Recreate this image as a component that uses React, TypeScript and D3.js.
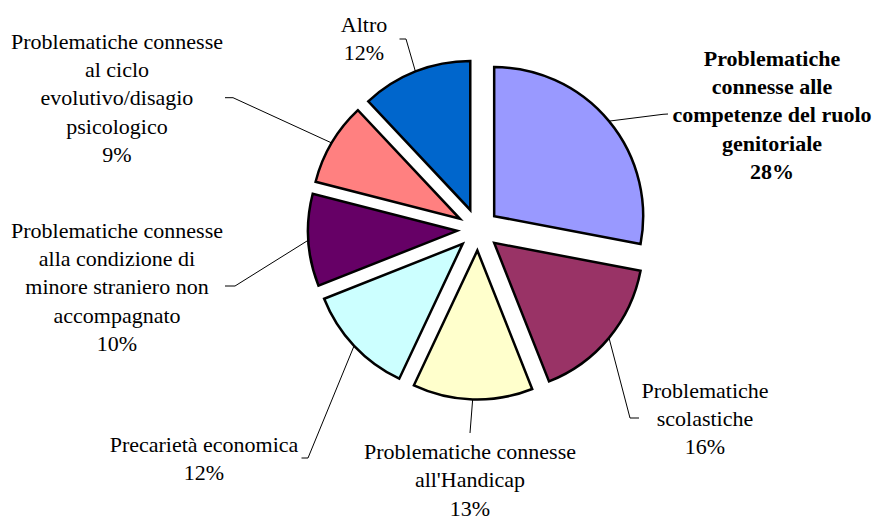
import React from "react";
import * as d3 from "d3";

const categories = [
  "Problematiche connesse alle competenze del ruolo genitoriale",
  "Problematiche scolastiche",
  "Problematiche connesse all'Handicap",
  "Precarietà economica",
  "Problematiche connesse alla condizione di minore straniero non accompagnato",
  "Problematiche connesse al ciclo evolutivo/disagio psicologico",
  "Altro",
];
const values = [28, 16, 13, 12, 10, 9, 12];
const percentLabels = ["28%", "16%", "13%", "12%", "10%", "9%", "12%"];
const labelLines = [
  ["Problematiche", "connesse alle", "competenze del ruolo", "genitoriale"],
  ["Problematiche", "scolastiche"],
  ["Problematiche connesse", "all'Handicap"],
  ["Precarietà economica"],
  ["Problematiche connesse", "alla condizione di", "minore straniero non", "accompagnato"],
  ["Problematiche connesse", "al ciclo", "evolutivo/disagio", "psicologico"],
  ["Altro"],
];
const colors = ["#9999FF", "#993366", "#FFFFCC", "#CCFFFF", "#660066", "#FF8080", "#0066CC"];
const boldLabel = [true, false, false, false, false, false, false];

// layout (label placement, leader elbows)
const layout = [
  { tx: 772, ty: 58, elbow: [663, 114.3], tick: [668, 114] },
  { tx: 705, ty: 390, elbow: [630, 418], tick: [639, 418] },
  { tx: 470, ty: 451.5, elbow: [470, 433], tick: [470, 433] },
  { tx: 204, ty: 444.5, elbow: [308, 458], tick: [301.5, 458] },
  { tx: 117, ty: 230, elbow: [235, 286], tick: [225, 286] },
  { tx: 117, ty: 41, elbow: [233, 97.7], tick: [225, 97.7] },
  { tx: 364, ty: 24, elbow: [406, 39], tick: [399.5, 39] },
];

const W = 880;
const H = 518;
const cx = 478;
const cy = 229.5;
const R = 149;
const EXPLODE = 21;
const LH = 28.4;

export default function App() {
  const pie = d3
    .pie<number>()
    .sort(null)
    .value((d) => d)
    .startAngle(0)
    .endAngle(2 * Math.PI);
  const arcs = pie(values);
  const arcGen = d3.arc<d3.PieArcDatum<number>>().innerRadius(0).outerRadius(R);

  return (
    <svg
      width={W}
      height={H}
      style={{ position: "absolute", left: 0, top: 0, background: "#fff" }}
      fontFamily="'Liberation Serif', 'Times New Roman', serif"
      fontSize={22}
    >
      {arcs.map((a, i) => {
        const mid = (a.startAngle + a.endAngle) / 2;
        const ox = EXPLODE * Math.sin(mid);
        const oy = -EXPLODE * Math.cos(mid);
        const sx = cx + ox;
        const sy = cy + oy;
        const mx = sx + R * Math.sin(mid);
        const my = sy - R * Math.cos(mid);
        const L = layout[i];
        const pts: [number, number][] = [
          [mx, my],
          [L.elbow[0], L.elbow[1]],
          [L.tick[0], L.tick[1]],
        ];
        const lines = [...labelLines[i], percentLabels[i]];
        return (
          <g key={categories[i]}>
            <path
              d={arcGen(a) || ""}
              transform={`translate(${sx},${sy})`}
              fill={colors[i]}
              stroke="#000"
              strokeWidth={2.5}
              strokeLinejoin="miter"
            />
            <path d={d3.line()(pts) || ""} fill="none" stroke="#000" strokeWidth={1} />
            <text
              x={L.tx}
              textAnchor="middle"
              fontWeight={boldLabel[i] ? "bold" : "normal"}
              fill="#000"
            >
              {lines.map((ln, j) => (
                <tspan key={j} x={L.tx} y={L.ty + j * LH} dominantBaseline="central">
                  {ln}
                </tspan>
              ))}
            </text>
          </g>
        );
      })}
    </svg>
  );
}
